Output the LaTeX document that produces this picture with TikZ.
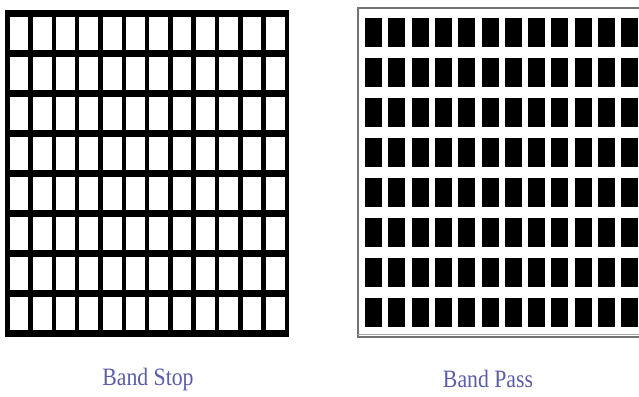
\documentclass[tikz,border=0pt]{standalone}
\usepackage{fontspec}
\setmainfont{Liberation Serif}
\usepackage{xcolor}
\usetikzlibrary{positioning}

\definecolor{captionblue}{RGB}{92,92,172}

\begin{document}
\begin{tikzpicture}[
  x=1pt, y=-1pt,
  every node/.style={align=center},
  caption/.style={text=captionblue, font=\fontsize{25}{28}\selectfont, xscale=0.87, inner sep=0pt},
  hole/.style={fill=white},
  block/.style={fill=black},
]

\useasboundingbox (0,0) rectangle (639,396);
\clip (0,0) rectangle (639,396);

%% Band stop: black mesh with white holes
\fill[black] (5,10) rectangle (288.5,337);
\foreach \i in {0,...,11}{
  \foreach \j in {0,...,7}{
    \fill[hole] (9.5+23.3*\i,17+40*\j) rectangle ++(18.8,33);
  }
}

%% Band pass: white sheet with black patches
\draw[black!55, line width=1.2pt] (358,8) rectangle (650,337);
\draw[black!35, line width=0.6pt] (358,334.5) -- (650,334.5);
\foreach \i in {0,...,11}{
  \foreach \j in {0,...,7}{
    \fill[block] (365+23.3*\i,18+40*\j) rectangle ++(17,29);
  }
}

\node[caption] (stop) at (148,379) {Band Stop};
\node[caption] (pass) at (488,379) {Band Pass};

\end{tikzpicture}
\end{document}
